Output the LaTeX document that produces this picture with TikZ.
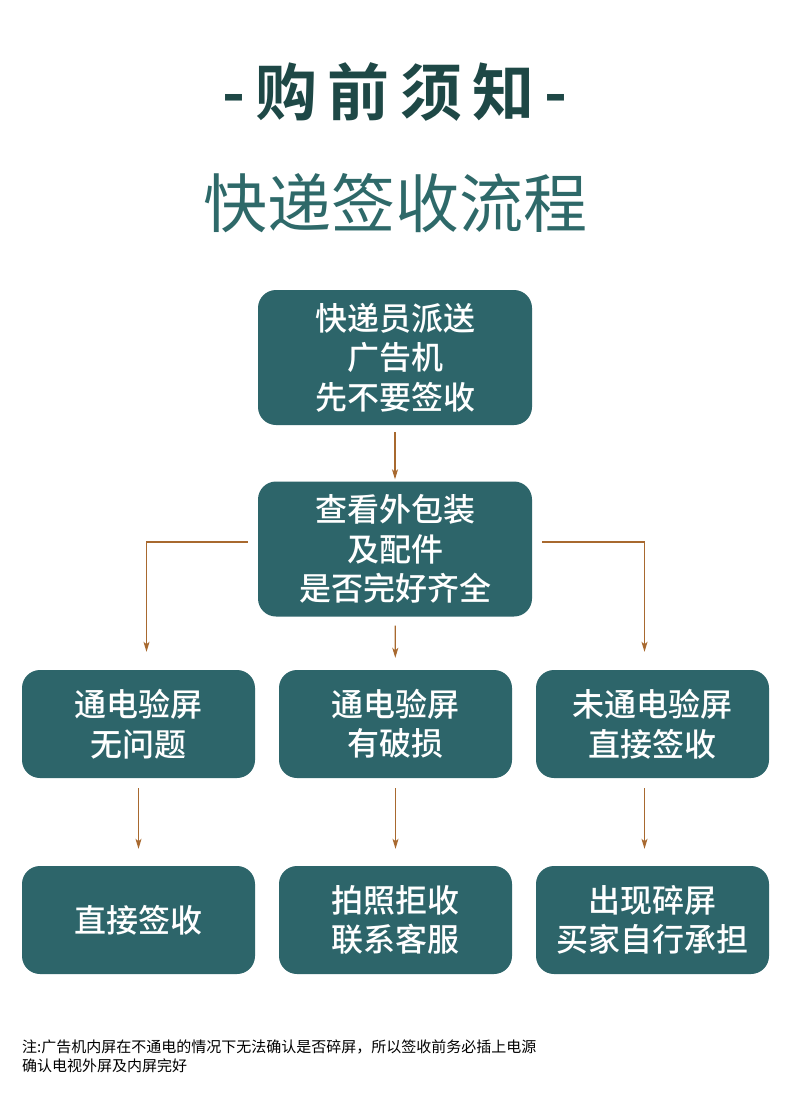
\documentclass[tikz,border=0pt]{standalone}
\usepackage{fontspec}
\usepackage{tikz}
\usetikzlibrary{arrows.meta}

\newfontfamily\cjk{Noto Sans CJK SC}
\newfontfamily\cjkmid{Noto Sans CJK SC Medium}
\newfontfamily\cjkbold{Noto Sans CJK SC Bold}

\definecolor{boxteal}{HTML}{2D656A}
\definecolor{titledark}{HTML}{1E4846}
\definecolor{subteal}{HTML}{2E6969}
\definecolor{flowbrown}{HTML}{A8692F}

\tikzset{
  bigbox/.style={rounded corners=18pt, fill=boxteal, text=white, align=center,
    minimum width=274pt, minimum height=135pt, inner sep=0pt,
    font=\cjkmid\fontsize{32}{39.5}\selectfont},
  smallbox/.style={bigbox, minimum width=233pt, minimum height=108pt},
  flow/.style={draw=flowbrown, line width=1.1pt, -{Stealth[length=10pt, width=6pt, inset=2.5pt]}}
}

\begin{document}
\begin{tikzpicture}[x=1pt, y=-1pt]
			\useasboundingbox[fill=white] (0,0) rectangle (790,1112);
			% Titles
			\node[text=titledark, font=\cjkbold\fontsize{62}{62}\selectfont] (title) at (395,92) {-\,购\,前\,须\,知\,-};
			\node[text=subteal, font=\cjk\fontsize{64}{64}\selectfont] (sub) at (395,203) {快递签收流程};
			
			% Nodes
			\node[bigbox] (send) at (395,357.5) {快递员派送\\广告机\\先不要签收};
			\node[bigbox] (check) at (395,549) {查看外包装\\及配件\\是否完好齐全};
			\node[smallbox] (okscr) at (138.5,724) {通电验屏\\无问题};
			\node[smallbox] (badscr) at (395.5,724) {通电验屏\\有破损};
			\node[smallbox] (nopow) at (652.5,724) {未通电验屏\\直接签收};
			\node[smallbox] (sign) at (138.5,920) {直接签收};
			\node[smallbox] (refuse) at (395.5,920) {拍照拒收\\联系客服};
			\node[smallbox] (self) at (652.5,920) {出现碎屏\\买家自行承担};
			
			% Note
			\node[anchor=north west, align=left, inner sep=0pt, font=\cjk\fontsize{15}{18.5}\selectfont] (note) at (22,1040)
			  {注:广告机内屏在不通电的情况下无法确认是否碎屏，所以签收前务必插上电源\\确认电视外屏及内屏完好};
			
			% Edges
			\draw[flow, shorten <=7pt, shorten >=2pt] (send) -- (check);
			\draw[flow, shorten <=9pt, shorten >=12pt] (check) -- (badscr);
			\draw[flow, shorten >=18pt] ([xshift=-10pt,yshift=7pt]check.west) -| ([xshift=8pt]okscr.north);
			\draw[flow, shorten >=18pt] ([xshift=10pt,yshift=7pt]check.east) -| ([xshift=-8pt]nopow.north);
			\draw[flow, shorten <=10pt, shorten >=17pt] (okscr) -- (sign);
			\draw[flow, shorten <=10pt, shorten >=17pt] (badscr) -- (refuse);
			\draw[flow, shorten <=10pt, shorten >=17pt] ([xshift=-8pt]nopow.south) -- ([xshift=-8pt]self.north);
		\end{tikzpicture}
\end{document}
